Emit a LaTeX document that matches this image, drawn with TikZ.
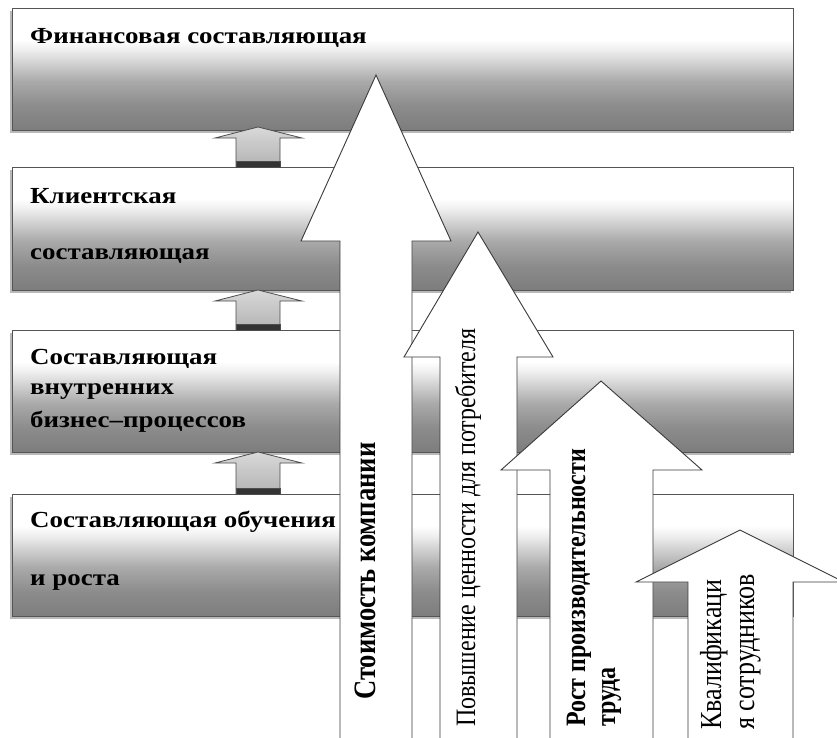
\documentclass[tikz,border=0pt]{standalone}
\usepackage{fontspec}
\setmainfont{Liberation Serif}
\definecolor{bxa}{HTML}{7D7D7D}
\definecolor{bxb}{HTML}{8C8C8C}
\definecolor{bxc}{HTML}{AAAAAA}
\definecolor{bxd}{HTML}{CFCFCF}
\definecolor{bxe}{HTML}{EFEFEF}
\definecolor{edgec}{HTML}{555555}
\definecolor{arredge}{HTML}{3A3A3A}
\pgfdeclareverticalshading{boxsh}{100bp}{color(0bp)=(bxa); color(25bp)=(bxa); color(35bp)=(bxb); color(45bp)=(bxc); color(52bp)=(bxd); color(58bp)=(bxe); color(62bp)=(white); color(100bp)=(white)}
\newcommand{\hst}[1]{\scalebox{1.17}[1]{#1}}
\newcommand{\vst}[1]{\scalebox{1}[1.17]{#1}}
\begin{document}
\begin{tikzpicture}[x=1pt,y=-1pt,
  boxshadow/.style={fill=gray!55, draw=none},
  perspbox/.style={shading=boxsh, draw=edgec, line width=1pt},
  boxtxt/.style={anchor=base west, inner sep=0pt, font=\fontsize{23}{27}\selectfont\bfseries},
  bigarrow/.style={fill=white, draw=arredge, line width=0.9pt, line join=miter},
  smallarrow/.style={top color=gray!30, bottom color=gray!60, draw=gray!60!black, line width=0.8pt},
  smallband/.style={fill=gray!40!black, draw=gray!60!black, line width=0.8pt},
  vtxtb/.style={anchor=base west, inner sep=0pt, rotate=90, font=\fontsize{24}{28}\selectfont\bfseries},
  vtxtr/.style={anchor=base west, inner sep=0pt, rotate=90, font=\fontsize{24}{28}\selectfont}]
\useasboundingbox (0,0) rectangle (837,737);
\clip (0,0) rectangle (837,737);
\fill[white] (0,0) rectangle (837,737);
% boxes
\foreach \t/\b in {8/130,167/290,330/452,494/616}{
  \fill[boxshadow] (10,\t+3) rectangle (791,\b+3);
  \draw[perspbox] (12,\t) rectangle (793,\b);
}
% small arrows between boxes
\foreach \t/\b in {127/167,290/330,452/494}{
  \draw[smallarrow] (236,\b) -- (236,\t+11) -- (215,\t+11) -- (258,\t) -- (302,\t+11) -- (280,\t+11) -- (280,\b) -- cycle;
  \draw[smallband] (236,\b-6) rectangle (280,\b);
}
% box texts
\node[boxtxt] (f1) at (30,43) {\hst{Финансовая составляющая}};
\node[boxtxt] (k1) at (30,203) {\hst{Клиентская}};
\node[boxtxt] (k2) at (30,259) {\hst{составляющая}};
\node[boxtxt] (p1) at (30,364) {\hst{Составляющая}};
\node[boxtxt] (p2) at (30,394) {\hst{внутренних}};
\node[boxtxt] (p3) at (30,427) {\hst{бизнес–процессов}};
\node[boxtxt] (o1) at (30,527) {\hst{Составляющая обучения}};
\node[boxtxt] (o2) at (30,585) {\hst{и роста}};
% big arrows
\draw[bigarrow] (340,760) -- (340,241) -- (301,241) -- (376,75) -- (451,241) -- (412,241) -- (412,760) -- cycle;
\draw[bigarrow] (440,760) -- (440,357) -- (404,357) -- (478,232) -- (553,357) -- (517,357) -- (517,760) -- cycle;
\draw[bigarrow] (550,760) -- (550,470) -- (501,470) -- (601,381) -- (702,470) -- (653,470) -- (653,760) -- cycle;
\draw[bigarrow] (688,760) -- (688,582) -- (636,582) -- (740,530) -- (844,582) -- (793,582) -- (793,760) -- cycle;
% arrow texts
\node[vtxtb, font=\fontsize{26.6}{30}\selectfont\bfseries] (a1) at (375,700) {\vst{Стоимость компании}};
\node[vtxtr] (a2) at (475,727) {\vst{Повышение ценности для потребителя}};
\node[vtxtb] (a3a) at (585,727) {\vst{Рост производительности}};
\node[vtxtb] (a3b) at (615,727) {\vst{труда}};
\node[vtxtr, font=\fontsize{26}{30}\selectfont] (a4a) at (721,730) {\vst{Квалификаци}};
\node[vtxtr, font=\fontsize{26}{30}\selectfont] (a4b) at (754,730) {\vst{я сотрудников}};
\end{tikzpicture}
\end{document}
